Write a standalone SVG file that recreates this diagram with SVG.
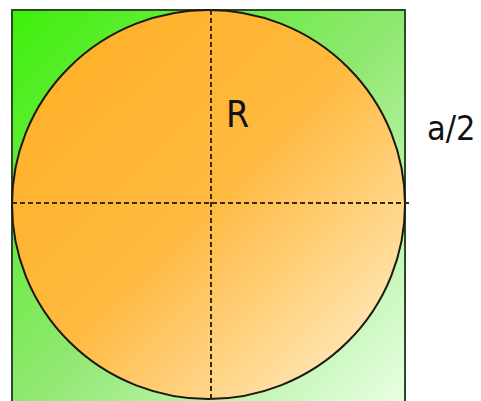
<svg xmlns="http://www.w3.org/2000/svg" width="481" height="401" viewBox="0 0 481 401">
<defs>
<linearGradient id="gG" x1="0" y1="0" x2="1" y2="1">
<stop offset="0" stop-color="#3ef00a"/>
<stop offset="0.5" stop-color="#8fe870"/>
<stop offset="1" stop-color="#eaffe6"/>
</linearGradient>
<linearGradient id="gO" x1="0" y1="0" x2="1" y2="1">
<stop offset="0" stop-color="#ffae22"/>
<stop offset="0.5" stop-color="#ffba40"/>
<stop offset="1" stop-color="#fff2d8"/>
</linearGradient>
<style>
.d{stroke:#3a2a0a;stroke-width:2;stroke-dasharray:5,3;fill:none}
.t{font-family:"DejaVu Sans Condensed","DejaVu Sans",sans-serif;fill:#111}
</style>
</defs>
<rect width="481" height="401" fill="#fff"/>
<g id="square"><rect x="12" y="10" width="393" height="400" fill="url(#gG)" stroke="#2a4a2a" stroke-width="2"/></g>
<g id="circle"><ellipse cx="208.5" cy="204.5" rx="196.5" ry="194.5" fill="url(#gO)" stroke="#1a1a10" stroke-width="2"/></g>
<g id="connectors">
<line class="d" x1="211" y1="10" x2="211" y2="401"/>
<line class="d" x1="12" y1="203" x2="410" y2="203"/>
</g>
<g id="labels">
<text class="t" x="427" y="140" font-size="34">a/2</text>
<text class="t" x="226" y="127" font-size="37">R</text>
</g>
</svg>
